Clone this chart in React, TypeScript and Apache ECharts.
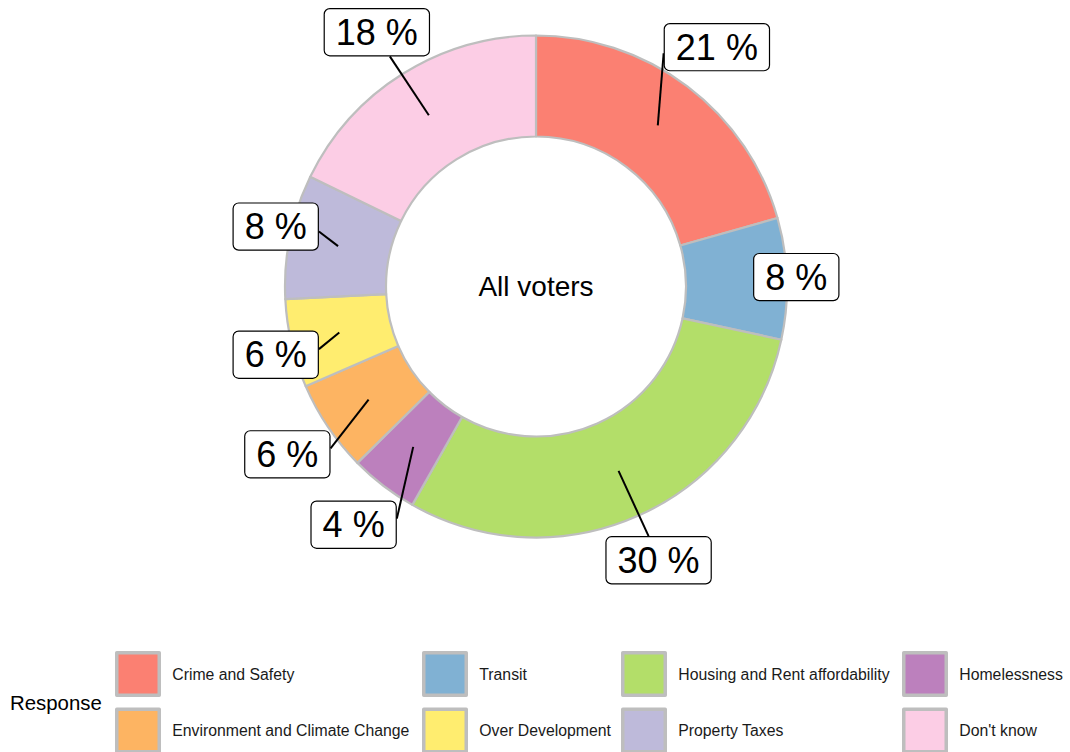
import React, { useEffect, useRef } from "react";
import * as echarts from "echarts";

// ---- data ----
const categories = [
  "Crime and Safety",
  "Transit",
  "Housing and Rent affordability",
  "Homelessness",
  "Environment and Climate Change",
  "Over Development",
  "Property Taxes",
  "Don't know",
];
const shares = [20.6, 7.8, 29.8, 4.4, 5.9, 5.7, 8.0, 17.8];
const sliceColors = [
  "#FB8072",
  "#80B1D3",
  "#B3DE69",
  "#BC80BD",
  "#FDB462",
  "#FFED6F",
  "#BEBADA",
  "#FCCDE5",
];
const legendColumns = [
  ["Crime and Safety", "Environment and Climate Change"],
  ["Transit", "Over Development"],
  ["Housing and Rent affordability", "Property Taxes"],
  ["Homelessness", "Don't know"],
];
const centerTitle = "All voters";
const legendTitle = "Response";

// ---- layout ----
const CX = 536;
const CY = 286.5;
const R_IN = 150;
const R_OUT = 251;
const R_POINT = 202;
const R_LABEL = 300;
const PANEL_HALF = 303.5;
const MIN_SEG = 22;
const FONT = "'Liberation Sans', Arial, Helvetica, sans-serif";
const legendLefts = [115, 422, 621, 902];

const total = shares.reduce((a, b) => a + b, 0);
const cumulative: number[] = [];
shares.reduce((acc, v, i) => {
  cumulative[i] = acc;
  return acc + v;
}, 0);

function boxEnd(px: number, py: number, bx: number, by: number, w: number, h: number) {
  const l = bx - w / 2;
  const r = bx + w / 2;
  const t = by - h / 2;
  const b = by + h / 2;
  const outX = px < l - 4 ? l : px > r + 4 ? r : null;
  if (outX !== null) {
    const ny = Math.min(Math.max(py, t), b);
    return [outX, by + 0.25 * (ny - by)];
  }
  const sideY = py < by ? t : b;
  const nx = Math.min(Math.max(px, l), r);
  return [bx + 0.25 * (nx - bx), sideY];
}

export default function App() {
  const ref = useRef<HTMLDivElement>(null);
  useEffect(() => {
    if (!ref.current) return;
    const chart = echarts.init(ref.current, null, { renderer: "svg" });
    const pieData = categories.map((name, i) => ({
      name,
      value: shares[i],
      itemStyle: { color: sliceColors[i] },
    }));
    const option: any = {
      animation: false,
      backgroundColor: "#ffffff",
      textStyle: { fontFamily: FONT },
      legend: legendColumns.map((col, k) => ({
        data: col,
        orient: "vertical",
        left: legendLefts[k],
        top: 651,
        height: 120,
        padding: 0,
        itemWidth: 42.5,
        itemHeight: 42.5,
        itemGap: 10.5,
        selectedMode: false,
        icon: "rect",
        itemStyle: { borderColor: "#BEBEBE", borderWidth: 3.5 },
        textStyle: {
          fontSize: 15.8,
          color: "#1a1a1a",
          fontFamily: FONT,
          padding: [0, 0, 0, 8],
        },
      })),
      graphic: [
        {
          type: "text",
          x: CX,
          y: CY,
          style: {
            text: centerTitle,
            fontSize: 28,
            fontFamily: FONT,
            fill: "#000",
            align: "center",
            verticalAlign: "middle",
          },
        },
        {
          type: "text",
          x: 10,
          y: 703,
          style: {
            text: legendTitle,
            fontSize: 20.4,
            fontFamily: FONT,
            fill: "#000",
            align: "left",
            verticalAlign: "middle",
          },
        },
      ],
      series: [
        {
          type: "pie",
          z: 2,
          center: [CX, CY],
          radius: [R_IN, R_OUT],
          startAngle: 90,
          clockwise: true,
          silent: true,
          emphasis: { disabled: true },
          itemStyle: { borderColor: "#BEBEBE", borderWidth: 2.2 },
          data: pieData,
          label: { show: false },
          labelLine: { show: false },
        },
        {
          type: "pie",
          z: 5,
          center: [CX, CY],
          radius: [R_IN, R_OUT],
          startAngle: 90,
          clockwise: true,
          avoidLabelOverlap: false,
          silent: true,
          legendHoverLink: false,
          emphasis: { disabled: true },
          itemStyle: { color: "rgba(0,0,0,0)", borderWidth: 0 },
          data: categories.map((name, i) => ({ name, value: shares[i] })),
          label: {
            show: true,
            position: "outside",
            formatter: (p: any) => `${Math.round((p.value / total) * 100)} %`,
            fontSize: 36,
            lineHeight: 36,
            fontFamily: FONT,
            color: "#000",
            backgroundColor: "#ffffff",
            borderColor: "#000",
            borderWidth: 1.2,
            borderRadius: 5,
            padding: [5, 11, 5, 11],
          },
          labelLine: {
            show: true,
            smooth: false,
            lineStyle: { color: "#000", width: 2 },
          },
          labelLayout: (p: any) => {
            const i = p.dataIndex;
            const theta = ((cumulative[i] + shares[i] / 2) / total) * 2 * Math.PI;
            const w = p.labelRect.width;
            const h = p.labelRect.height;
            let x = CX + R_LABEL * Math.sin(theta);
            const y = CY - R_LABEL * Math.cos(theta);
            x = Math.min(Math.max(x, CX - PANEL_HALF + w / 2), CX + PANEL_HALF - w / 2);
            const px = CX + R_POINT * Math.sin(theta);
            const py = CY - R_POINT * Math.cos(theta);
            const end = boxEnd(px, py, x, y, w, h);
            const len = Math.hypot(end[0] - px, end[1] - py);
            const pts =
              len < MIN_SEG
                ? [[px, py], [px, py], [px, py]]
                : [[px, py], end, end];
            return {
              x,
              y,
              align: "center",
              verticalAlign: "middle",
              labelLinePoints: pts,
            };
          },
        },
      ],
    };
    chart.setOption(option);
    return () => chart.dispose();
  }, []);
  return (
    <div
      ref={ref}
      style={{ position: "fixed", left: 0, top: 0, width: "1070px", height: "752px" }}
    />
  );
}
